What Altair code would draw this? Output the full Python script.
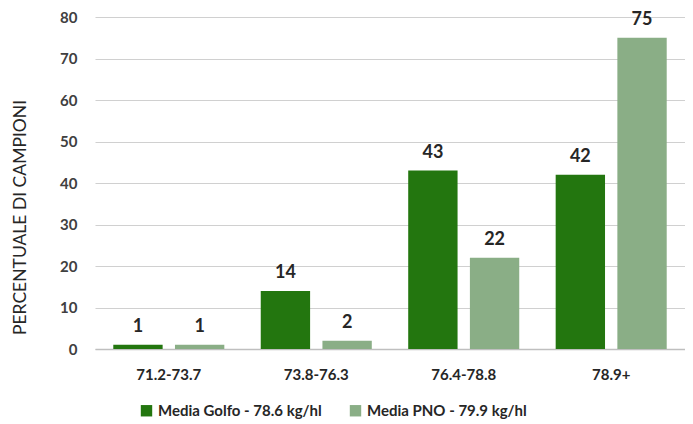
import altair as alt
import pandas as pd

categories = ["71.2-73.7", "73.8-76.3", "76.4-78.8", "78.9+"]
series = ["Media Golfo - 78.6 kg/hl", "Media PNO - 79.9 kg/hl"]
golfo = [1, 14, 43, 42]
pno = [1, 2, 22, 75]
colors = ["#23760F", "#8AAE86"]

rows = []
for c, g, p in zip(categories, golfo, pno):
    rows.append({"cat": c, "serie": series[0], "val": g})
    rows.append({"cat": c, "serie": series[1], "val": p})
df = pd.DataFrame(rows)

FONT = "Lato"

base = alt.Chart(df).encode(
    x=alt.X("cat:N", sort=categories, title=None,
            scale=alt.Scale(paddingInner=0.247, paddingOuter=0.124),
            axis=alt.Axis(labelAngle=0, labelFontSize=15, labelFontWeight="bold",
                          labelColor="#262626", labelPadding=18, ticks=False,
                          domainColor="#BFBFBF", domainWidth=1.5, labelFont=FONT)),
    xOffset=alt.XOffset("serie:N", sort=series,
                        scale=alt.Scale(paddingInner=0.2, paddingOuter=0)),
)

bars = base.mark_bar().encode(
    y=alt.Y("val:Q", title="PERCENTUALE DI CAMPIONI",
            scale=alt.Scale(domain=[0, 80]),
            axis=alt.Axis(values=list(range(0, 81, 10)), domain=False, ticks=False,
                          labelFontSize=15, labelFontWeight="bold", labelColor="#404040",
                          labelPadding=18, labelFont=FONT,
                          titleFont=FONT, titleFontSize=17.5, titleFontWeight="normal",
                          titleColor="#262626", titlePadding=30, titleY=200,
                          gridColor="#D0D0D0", gridWidth=1.2)),
    color=alt.Color("serie:N", sort=series,
                    scale=alt.Scale(domain=series, range=colors),
                    legend=alt.Legend(orient="none", legendX=44, legendY=386,
                                      direction="horizontal", title=None,
                                      symbolType="square", symbolSize=130,
                                      labelFontSize=15, labelFontWeight="bold",
                                      labelColor="#262626", labelFont=FONT, labelLimit=0,
                                      columnPadding=26, symbolStrokeWidth=0)),
)

labels = base.mark_text(dy=-18, fontSize=18, fontWeight="bold", color="#262626",
                        font=FONT, baseline="middle").encode(
    y=alt.Y("val:Q"),
    text=alt.Text("val:Q"),
)

chart = (bars + labels).properties(
    width=590, height=332,
    autosize=alt.AutoSizeParams(type="none"),
    padding={"left": 87, "top": 9, "right": 0, "bottom": 75},
).configure_view(stroke=None)

chart.save("out.html", embed_options={"renderer": "svg", "actions": False})
